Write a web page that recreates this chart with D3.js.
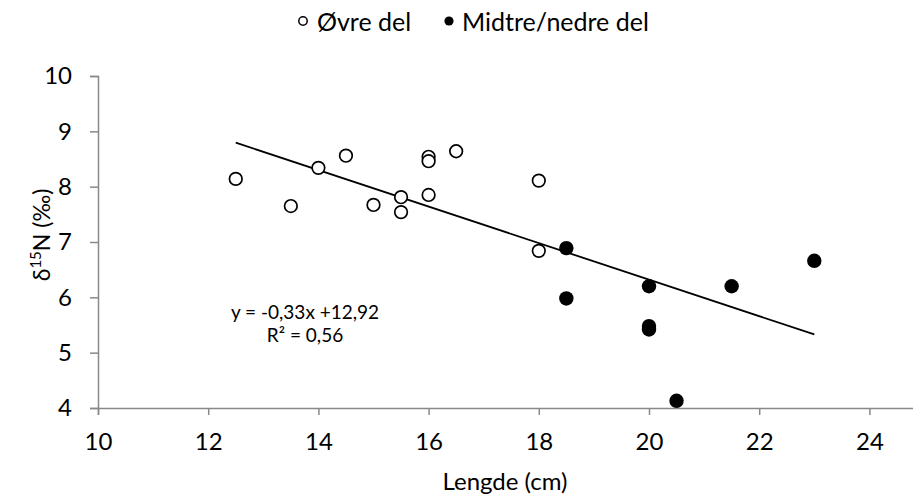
<!DOCTYPE html>
<html>
<head>
<meta charset="utf-8">
<script src="https://cdn.jsdelivr.net/npm/d3@7/dist/d3.min.js"></script>
<style>
  html, body { margin: 0; padding: 0; background: #ffffff; }
  svg { display: block; font-family: Lato, "Open Sans", sans-serif; }
</style>
</head>
<body>
<svg id="chart" width="913" height="497"></svg>
<script>
// Upper part of the fish (open markers)
const upperLength = [12.5, 13.5, 14, 14.5, 15, 15.5, 15.5, 16, 16, 16, 16.5, 18, 18];
const upperD15N   = [8.14, 7.65, 8.34, 8.56, 7.67, 7.81, 7.54, 8.54, 8.46, 7.85, 8.64, 8.11, 6.84];

// Middle/lower part (filled markers)
const lowerLength = [18.5, 18.5, 20, 20, 20, 20.5, 21.5, 23];
const lowerD15N   = [6.89, 5.98, 6.20, 5.48, 5.42, 4.13, 6.20, 6.66];

// Linear trend line, as stated in the label
const trendSlope = -0.33;
const trendIntercept = 12.92;
const trendRange = [12.5, 23];
const trendLabel = ["y = -0,33x +12,92", "R² = 0,56"];

const xTicks = [10, 12, 14, 16, 18, 20, 22, 24];
const yTicks = [4, 5, 6, 7, 8, 9, 10];
const seriesNames = ["Øvre del", "Midtre/nedre del"];

const svg = d3.select("#chart");
const axisColor = "#898989";
const fontSize = 24;

// The x axis continues to 26, past the right edge of the canvas
const x = d3.scaleLinear().domain([10, 26]).range([98, 98 + 16 * 55.1]);
const y = d3.scaleLinear().domain([4, 10]).range([408, 76]);

// Y axis
const yAxis = svg.append("g")
  .attr("transform", `translate(${x(10)},0)`)
  .call(d3.axisLeft(y).tickValues(yTicks).tickSize(8).tickPadding(18).tickFormat(d3.format("d")));
yAxis.select(".domain").attr("stroke", axisColor).attr("stroke-width", 1.5);
yAxis.selectAll(".tick line").attr("stroke", axisColor).attr("stroke-width", 1.5);
yAxis.selectAll(".tick text").attr("font-size", fontSize).attr("fill", "#000").attr("font-family", "Lato");

// X axis
const xAxis = svg.append("g")
  .attr("transform", `translate(0,${y(4)})`)
  .call(d3.axisBottom(x).tickValues(xTicks).tickSize(7).tickPadding(18).tickFormat(d3.format("d")));
xAxis.select(".domain").attr("stroke", axisColor).attr("stroke-width", 1.5);
xAxis.selectAll(".tick line").attr("stroke", axisColor).attr("stroke-width", 1.5);
xAxis.selectAll(".tick text").attr("font-size", fontSize).attr("fill", "#000").attr("font-family", "Lato");

// Axis titles
svg.append("text")
  .attr("x", 505).attr("y", 490)
  .attr("text-anchor", "middle")
  .attr("font-size", fontSize)
  .text("Lengde (cm)");

const yTitle = svg.append("text")
  .attr("transform", "translate(50,235) rotate(-90)")
  .attr("text-anchor", "middle")
  .attr("font-size", 23);
yTitle.append("tspan").text("δ");
yTitle.append("tspan").attr("font-size", 15).attr("dy", -9).text("15");
yTitle.append("tspan").attr("dy", 9).text("N (‰)");

// Trend line
const line = d3.line().x(d => x(d)).y(d => y(trendSlope * d + trendIntercept));
svg.append("path")
  .datum(trendRange)
  .attr("d", line)
  .attr("fill", "none")
  .attr("stroke", "#000")
  .attr("stroke-width", 1.8);

// Markers
svg.append("g").selectAll("circle")
  .data(d3.zip(upperLength, upperD15N))
  .join("circle")
  .attr("cx", d => x(d[0]))
  .attr("cy", d => y(d[1]))
  .attr("r", 6.3)
  .attr("fill", "#fff")
  .attr("stroke", "#000")
  .attr("stroke-width", 1.7);

svg.append("g").selectAll("circle")
  .data(d3.zip(lowerLength, lowerD15N))
  .join("circle")
  .attr("cx", d => x(d[0]))
  .attr("cy", d => y(d[1]))
  .attr("r", 7.2)
  .attr("fill", "#000");

// Trend label
svg.append("g").selectAll("text")
  .data(trendLabel)
  .join("text")
  .attr("x", 305)
  .attr("y", (d, i) => 319 + i * 23)
  .attr("text-anchor", "middle")
  .attr("font-size", 19)
  .text(d => d);

// Legend
const legend = svg.append("g");
legend.append("circle").attr("cx", 303).attr("cy", 21).attr("r", 4.2)
  .attr("fill", "#fff").attr("stroke", "#000").attr("stroke-width", 1.5);
legend.append("text").attr("x", 317).attr("y", 31).attr("font-size", 25).text(seriesNames[0]);
legend.append("circle").attr("cx", 449).attr("cy", 21).attr("r", 4.6).attr("fill", "#000");
legend.append("text").attr("x", 462).attr("y", 31).attr("font-size", 25).text(seriesNames[1]);
</script>
</body>
</html>
